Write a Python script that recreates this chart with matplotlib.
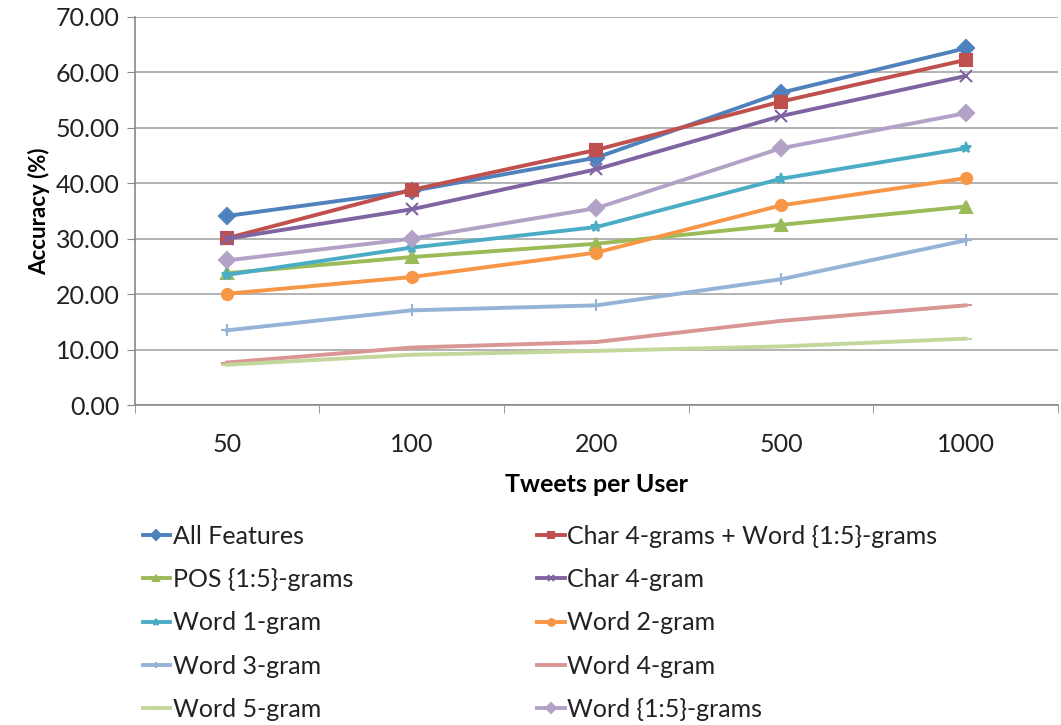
import matplotlib.pyplot as plt
from matplotlib.ticker import FixedLocator

# tweets per user (categorical x axis)
tweets = ["50", "100", "200", "500", "1000"]

all_features = [34.1, 38.6, 44.6, 56.3, 64.3]
char_word = [30.1, 38.8, 46.0, 54.7, 62.2]
pos_grams = [23.8, 26.7, 29.1, 32.5, 35.8]
char_4gram = [30.0, 35.3, 42.5, 52.1, 59.3]
word_1gram = [23.5, 28.4, 32.1, 40.8, 46.3]
word_2gram = [20.1, 23.1, 27.5, 36.0, 40.9]
word_3gram = [13.5, 17.1, 18.0, 22.7, 29.7]
word_4gram = [7.7, 10.4, 11.4, 15.2, 18.0]
word_5gram = [7.3, 9.1, 9.8, 10.6, 12.0]
word_15grams = [26.1, 30.0, 35.5, 46.3, 52.6]

series = [
    ("All Features", all_features, "#4F81BD", "D"),
    ("Char 4-grams + Word {1:5}-grams", char_word, "#C0504D", "s"),
    ("POS {1:5}-grams", pos_grams, "#9BBB59", "^"),
    ("Char 4-gram", char_4gram, "#8064A2", "x"),
    ("Word 1-gram", word_1gram, "#4BACC6", "*"),
    ("Word 2-gram", word_2gram, "#F79646", "o"),
    ("Word 3-gram", word_3gram, "#95B3D7", "+"),
    ("Word 4-gram", word_4gram, "#D99694", "_"),
    ("Word 5-gram", word_5gram, "#C3D69B", "_"),
    ("Word {1:5}-grams", word_15grams, "#B3A2C7", "D"),
]

plt.rcParams['font.family'] = ['Lato', 'DejaVu Sans']

fig = plt.figure(figsize=(10.61, 7.25), dpi=100)
ax = fig.add_axes([0.127, 0.441, 0.87, 0.536])

x = list(range(len(tweets)))
handles = {}
for label, vals, color, marker in series:
    line, = ax.plot(x, vals, color=color, lw=2.8, marker=marker,
                    markersize=8, markeredgewidth=1.5, label=label, zorder=3)
    handles[label] = line

ax.set_xlim(-0.5, len(tweets) - 0.5)
ax.set_ylim(0, 70)
ax.set_yticks(range(0, 71, 10))
ax.set_yticklabels([f"{v:.2f}" for v in range(0, 71, 10)], fontsize=18, color="#222222")
ax.set_xticks(x)
ax.set_xticklabels(tweets, fontsize=18, color="#222222")
ax.xaxis.set_minor_locator(FixedLocator([i - 0.5 for i in range(len(tweets) + 1)]))
ax.tick_params(axis="x", which="major", length=0, pad=20)
ax.tick_params(axis="x", which="minor", length=6, color="#888888")
ax.tick_params(axis="y", length=6, color="#888888", pad=5)

ax.grid(axis="y", color="#A6A6A6", lw=1.2)
ax.set_axisbelow(True)
for side in ["top", "right"]:
    ax.spines[side].set_visible(False)
for side in ["left", "bottom"]:
    ax.spines[side].set_color("#888888")
    ax.spines[side].set_linewidth(1.2)

ax.set_xlabel("Tweets per User", fontsize=18, fontweight="bold", labelpad=12)
ax.set_ylabel("Accuracy (%)", fontsize=16, fontweight="bold", labelpad=4)

# legend reads row by row, drawn as two single-column blocks
left_col = ["All Features", "POS {1:5}-grams", "Word 1-gram", "Word 3-gram", "Word 5-gram"]
right_col = ["Char 4-grams + Word {1:5}-grams", "Char 4-gram", "Word 2-gram",
             "Word 4-gram", "Word {1:5}-grams"]
for names, xpos in [(left_col, 0.125), (right_col, 0.497)]:
    fig.legend([handles[k] for k in names], names, loc="upper left",
               bbox_to_anchor=(xpos, 0.29), frameon=False, fontsize=18,
               handlelength=1.1, handletextpad=0.1, borderaxespad=0,
               labelspacing=0.81, markerscale=0.6, labelcolor="#222222")

fig.savefig("out.png", dpi=100)
